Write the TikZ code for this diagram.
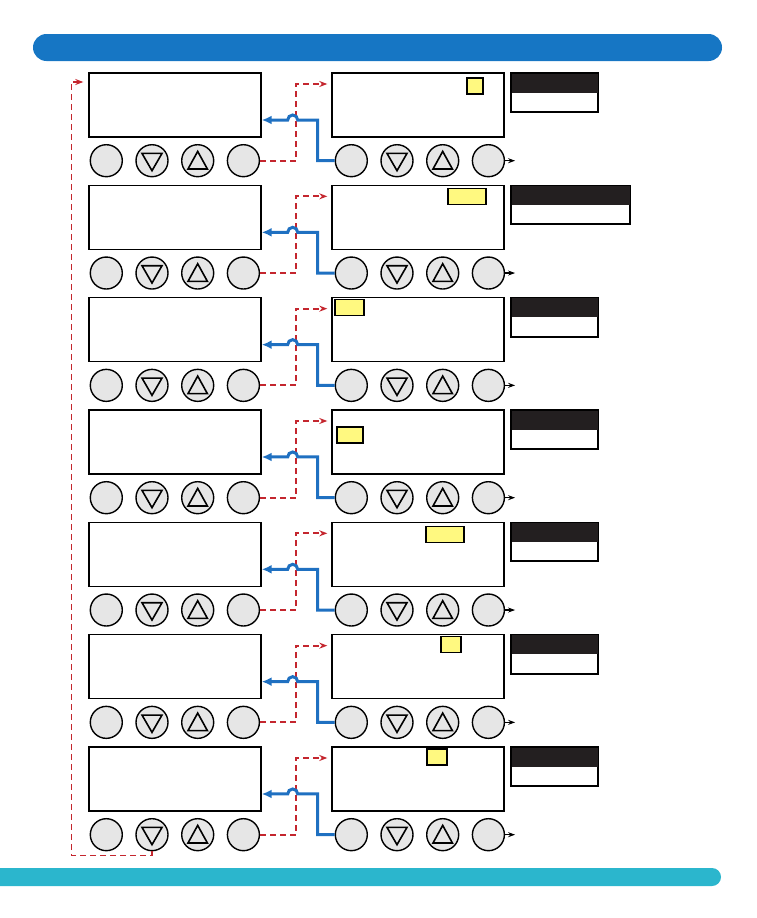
\documentclass[tikz,border=0pt]{standalone}
\usepackage{xcolor}
\usepackage{tikz}
\usetikzlibrary{arrows.meta,positioning,calc}

\definecolor{barblue}{HTML}{1676C4}
\definecolor{barteal}{HTML}{2BB6CD}
\definecolor{flowblue}{HTML}{1F70C1}
\definecolor{flowred}{HTML}{C4262E}
\definecolor{keygray}{HTML}{E6E6E6}
\definecolor{hilite}{HTML}{FFF980}
\definecolor{tagblack}{HTML}{231F20}

\begin{document}
\begin{tikzpicture}[x=1pt,y=-1pt,>=Latex,
  display/.style={draw,line width=1.4pt,minimum width=172pt,minimum height=64pt,inner sep=0pt},
  key/.style={circle,draw,line width=1.4pt,fill=keygray,minimum size=32pt,inner sep=0pt},
  tri/.style={line width=1.6pt},
  cursor/.style={draw,line width=1.5pt,fill=hilite,minimum height=16pt,inner sep=0pt,anchor=north west},
  tag/.style={draw,line width=1.4pt,fill=white,minimum height=38pt,inner sep=0pt,anchor=north west},
  blueflow/.style={flowblue,line width=3pt,-{Latex[length=10pt,width=9pt]}},
  redflow/.style={flowred,line width=2pt,dash pattern=on 6pt off 4pt,-{Stealth[length=8pt,width=6pt]}}]
  \useasboundingbox (0,0) rectangle (756,918);
  \fill[barblue,rounded corners=13.5pt] (33,34) rectangle (722,61);
  \fill[barteal,rounded corners=9pt] (-20,868) rectangle (721,886);
  % seven menu steps
  \foreach \r/\hx/\hy/\hw/\lw [evaluate=\r as \ry using 73+112.33*(\r-1)] in
    {1/135/5/16/86, 2/116/3/38/118, 3/3/2/29/86, 4/5/17/26/86,
     5/94/4/38/86, 6/109/2/20/86, 7/95/2/20/86}{
    \node[display] (dispL\r) at (175,\ry+32) {};
    \node[display] (dispR\r) at (418,\ry+32) {};
    \node[key] (menuL\r) at ($(dispL\r.south west)+(18,23)$) {};
    \node[key,right=12.3pt of menuL\r] (downL\r) {};
    \node[key,right=12.3pt of downL\r] (upL\r) {};
    \node[key,right=12.3pt of upL\r] (enterL\r) {};
    \node[key] (menuR\r) at ($(dispR\r.south west)+(20,23)$) {};
    \node[key,right=12.3pt of menuR\r] (downR\r) {};
    \node[key,right=12.3pt of downR\r] (upR\r) {};
    \node[key,right=12.3pt of upR\r] (enterR\r) {};
    \foreach \side in {L,R}{
      \draw[tri] ($(down\side\r)+(-10,-7.3)$) -- ++(20,0) -- ++(-10,17.3) -- cycle;
      \draw[tri] ($(up\side\r)+(-9.7,8.3)$) -- ++(19.4,0) -- ++(-9.7,-17.6) -- cycle;
    }
    \node[cursor,minimum width=\hw pt] (curs\r) at ($(dispR\r.north west)+(\hx,\hy)$) {};
    \node[tag,minimum width=\lw pt] (tag\r) at (511,\ry) {};
    \fill[tagblack] (tag\r.north west) rectangle (tag\r.east);
    \draw[line width=1.4pt] (tag\r.north west) rectangle (tag\r.south east);
    % next step / back
    \draw[redflow] (enterL\r.east) -- ++(36,0) |- ($(dispR\r.west)+(-4,-21)$);
    \draw[blueflow] (menuR\r.west) -- ++(-17,0) |- ($(dispL\r.east)+(36,15)$)
      arc[start angle=0,end angle=-180,radius=5] -- ($(dispL\r.east)+(0,15)$);
    \draw[line width=1.2pt,-{Stealth[length=7pt,width=5pt]}] (enterR\r.east) -- ++(10,0);
  }
  % loop back to the first step
  \draw[redflow,line width=1.4pt] (downL7.south) -- ++(0,4) -| ($(dispL1.west)+(-17,-23)$) -- ++(12,0);
\end{tikzpicture}
\end{document}
